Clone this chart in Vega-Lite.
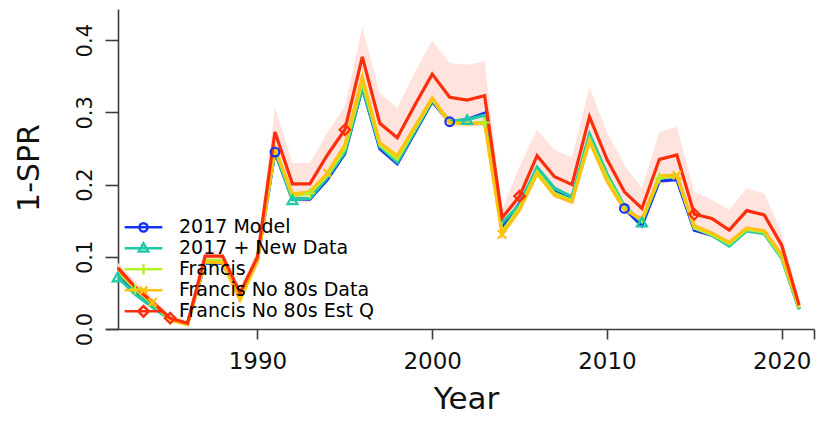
{
  "$schema": "https://vega.github.io/schema/vega-lite/v6.json",
  "width": 708,
  "height": 320,
  "autosize": {"type": "none"},
  "padding": {"left": 106, "top": 9, "right": 12, "bottom": 104},
  "background": "white",
  "config": {"view": {"stroke": null}, "font": "DejaVu Sans"},
  "datasets": {
    "band": [
      {"year": 1982, "lo": 0.076, "hi": 0.092},
      {"year": 1983, "lo": 0.050, "hi": 0.066},
      {"year": 1984, "lo": 0.030, "hi": 0.044},
      {"year": 1985, "lo": 0.010, "hi": 0.020},
      {"year": 1986, "lo": 0.005, "hi": 0.012},
      {"year": 1987, "lo": 0.092, "hi": 0.108},
      {"year": 1988, "lo": 0.092, "hi": 0.108},
      {"year": 1989, "lo": 0.043, "hi": 0.057},
      {"year": 1990, "lo": 0.092, "hi": 0.110},
      {"year": 1991, "lo": 0.240, "hi": 0.307},
      {"year": 1992, "lo": 0.175, "hi": 0.230},
      {"year": 1993, "lo": 0.175, "hi": 0.230},
      {"year": 1994, "lo": 0.210, "hi": 0.272},
      {"year": 1995, "lo": 0.245, "hi": 0.308},
      {"year": 1996, "lo": 0.336, "hi": 0.418},
      {"year": 1997, "lo": 0.245, "hi": 0.327},
      {"year": 1998, "lo": 0.226, "hi": 0.306},
      {"year": 1999, "lo": 0.268, "hi": 0.355},
      {"year": 2000, "lo": 0.310, "hi": 0.400},
      {"year": 2001, "lo": 0.280, "hi": 0.368},
      {"year": 2002, "lo": 0.280, "hi": 0.366},
      {"year": 2003, "lo": 0.282, "hi": 0.371},
      {"year": 2004, "lo": 0.132, "hi": 0.166},
      {"year": 2005, "lo": 0.160, "hi": 0.225},
      {"year": 2006, "lo": 0.212, "hi": 0.276},
      {"year": 2007, "lo": 0.182, "hi": 0.248},
      {"year": 2008, "lo": 0.172, "hi": 0.238},
      {"year": 2009, "lo": 0.258, "hi": 0.335},
      {"year": 2010, "lo": 0.205, "hi": 0.272},
      {"year": 2011, "lo": 0.162, "hi": 0.227},
      {"year": 2012, "lo": 0.140, "hi": 0.195},
      {"year": 2013, "lo": 0.200, "hi": 0.273},
      {"year": 2014, "lo": 0.205, "hi": 0.280},
      {"year": 2015, "lo": 0.135, "hi": 0.190},
      {"year": 2016, "lo": 0.128, "hi": 0.179},
      {"year": 2017, "lo": 0.113, "hi": 0.165},
      {"year": 2018, "lo": 0.133, "hi": 0.195},
      {"year": 2019, "lo": 0.130, "hi": 0.188},
      {"year": 2020, "lo": 0.097, "hi": 0.133},
      {"year": 2021, "lo": 0.026, "hi": 0.040}
    ],
    "lines": [
      {"s": "2017 Model", "year": 1982, "v": 0.078},
      {"s": "2017 Model", "year": 1983, "v": 0.052},
      {"s": "2017 Model", "year": 1984, "v": 0.032},
      {"s": "2017 Model", "year": 1985, "v": 0.013},
      {"s": "2017 Model", "year": 1986, "v": 0.008},
      {"s": "2017 Model", "year": 1987, "v": 0.091},
      {"s": "2017 Model", "year": 1988, "v": 0.091},
      {"s": "2017 Model", "year": 1989, "v": 0.046},
      {"s": "2017 Model", "year": 1990, "v": 0.096},
      {"s": "2017 Model", "year": 1991, "v": 0.245},
      {"s": "2017 Model", "year": 1992, "v": 0.180},
      {"s": "2017 Model", "year": 1993, "v": 0.180},
      {"s": "2017 Model", "year": 1994, "v": 0.207},
      {"s": "2017 Model", "year": 1995, "v": 0.243},
      {"s": "2017 Model", "year": 1996, "v": 0.334},
      {"s": "2017 Model", "year": 1997, "v": 0.250},
      {"s": "2017 Model", "year": 1998, "v": 0.229},
      {"s": "2017 Model", "year": 1999, "v": 0.272},
      {"s": "2017 Model", "year": 2000, "v": 0.315},
      {"s": "2017 Model", "year": 2001, "v": 0.287},
      {"s": "2017 Model", "year": 2002, "v": 0.290},
      {"s": "2017 Model", "year": 2003, "v": 0.299},
      {"s": "2017 Model", "year": 2004, "v": 0.140},
      {"s": "2017 Model", "year": 2005, "v": 0.174},
      {"s": "2017 Model", "year": 2006, "v": 0.220},
      {"s": "2017 Model", "year": 2007, "v": 0.190},
      {"s": "2017 Model", "year": 2008, "v": 0.182},
      {"s": "2017 Model", "year": 2009, "v": 0.266},
      {"s": "2017 Model", "year": 2010, "v": 0.212},
      {"s": "2017 Model", "year": 2011, "v": 0.167},
      {"s": "2017 Model", "year": 2012, "v": 0.143},
      {"s": "2017 Model", "year": 2013, "v": 0.205},
      {"s": "2017 Model", "year": 2014, "v": 0.207},
      {"s": "2017 Model", "year": 2015, "v": 0.137},
      {"s": "2017 Model", "year": 2016, "v": 0.130},
      {"s": "2017 Model", "year": 2017, "v": 0.117},
      {"s": "2017 Model", "year": 2018, "v": 0.137},
      {"s": "2017 Model", "year": 2019, "v": 0.133},
      {"s": "2017 Model", "year": 2020, "v": 0.100},
      {"s": "2017 Model", "year": 2021, "v": 0.028},
      {"s": "2017 + New Data", "year": 1982, "v": 0.072},
      {"s": "2017 + New Data", "year": 1983, "v": 0.048},
      {"s": "2017 + New Data", "year": 1984, "v": 0.030},
      {"s": "2017 + New Data", "year": 1985, "v": 0.013},
      {"s": "2017 + New Data", "year": 1986, "v": 0.008},
      {"s": "2017 + New Data", "year": 1987, "v": 0.092},
      {"s": "2017 + New Data", "year": 1988, "v": 0.092},
      {"s": "2017 + New Data", "year": 1989, "v": 0.045},
      {"s": "2017 + New Data", "year": 1990, "v": 0.096},
      {"s": "2017 + New Data", "year": 1991, "v": 0.247},
      {"s": "2017 + New Data", "year": 1992, "v": 0.179},
      {"s": "2017 + New Data", "year": 1993, "v": 0.181},
      {"s": "2017 + New Data", "year": 1994, "v": 0.210},
      {"s": "2017 + New Data", "year": 1995, "v": 0.245},
      {"s": "2017 + New Data", "year": 1996, "v": 0.335},
      {"s": "2017 + New Data", "year": 1997, "v": 0.253},
      {"s": "2017 + New Data", "year": 1998, "v": 0.231},
      {"s": "2017 + New Data", "year": 1999, "v": 0.274},
      {"s": "2017 + New Data", "year": 2000, "v": 0.317},
      {"s": "2017 + New Data", "year": 2001, "v": 0.288},
      {"s": "2017 + New Data", "year": 2002, "v": 0.290},
      {"s": "2017 + New Data", "year": 2003, "v": 0.296},
      {"s": "2017 + New Data", "year": 2004, "v": 0.147},
      {"s": "2017 + New Data", "year": 2005, "v": 0.172},
      {"s": "2017 + New Data", "year": 2006, "v": 0.224},
      {"s": "2017 + New Data", "year": 2007, "v": 0.195},
      {"s": "2017 + New Data", "year": 2008, "v": 0.183},
      {"s": "2017 + New Data", "year": 2009, "v": 0.270},
      {"s": "2017 + New Data", "year": 2010, "v": 0.215},
      {"s": "2017 + New Data", "year": 2011, "v": 0.170},
      {"s": "2017 + New Data", "year": 2012, "v": 0.148},
      {"s": "2017 + New Data", "year": 2013, "v": 0.210},
      {"s": "2017 + New Data", "year": 2014, "v": 0.213},
      {"s": "2017 + New Data", "year": 2015, "v": 0.140},
      {"s": "2017 + New Data", "year": 2016, "v": 0.130},
      {"s": "2017 + New Data", "year": 2017, "v": 0.115},
      {"s": "2017 + New Data", "year": 2018, "v": 0.136},
      {"s": "2017 + New Data", "year": 2019, "v": 0.132},
      {"s": "2017 + New Data", "year": 2020, "v": 0.098},
      {"s": "2017 + New Data", "year": 2021, "v": 0.027},
      {"s": "Francis", "year": 1982, "v": 0.080},
      {"s": "Francis", "year": 1983, "v": 0.055},
      {"s": "Francis", "year": 1984, "v": 0.035},
      {"s": "Francis", "year": 1985, "v": 0.014},
      {"s": "Francis", "year": 1986, "v": 0.008},
      {"s": "Francis", "year": 1987, "v": 0.095},
      {"s": "Francis", "year": 1988, "v": 0.095},
      {"s": "Francis", "year": 1989, "v": 0.046},
      {"s": "Francis", "year": 1990, "v": 0.098},
      {"s": "Francis", "year": 1991, "v": 0.250},
      {"s": "Francis", "year": 1992, "v": 0.184},
      {"s": "Francis", "year": 1993, "v": 0.188},
      {"s": "Francis", "year": 1994, "v": 0.213},
      {"s": "Francis", "year": 1995, "v": 0.250},
      {"s": "Francis", "year": 1996, "v": 0.342},
      {"s": "Francis", "year": 1997, "v": 0.255},
      {"s": "Francis", "year": 1998, "v": 0.235},
      {"s": "Francis", "year": 1999, "v": 0.277},
      {"s": "Francis", "year": 2000, "v": 0.318},
      {"s": "Francis", "year": 2001, "v": 0.285},
      {"s": "Francis", "year": 2002, "v": 0.285},
      {"s": "Francis", "year": 2003, "v": 0.286},
      {"s": "Francis", "year": 2004, "v": 0.135},
      {"s": "Francis", "year": 2005, "v": 0.168},
      {"s": "Francis", "year": 2006, "v": 0.218},
      {"s": "Francis", "year": 2007, "v": 0.188},
      {"s": "Francis", "year": 2008, "v": 0.178},
      {"s": "Francis", "year": 2009, "v": 0.263},
      {"s": "Francis", "year": 2010, "v": 0.210},
      {"s": "Francis", "year": 2011, "v": 0.168},
      {"s": "Francis", "year": 2012, "v": 0.150},
      {"s": "Francis", "year": 2013, "v": 0.209},
      {"s": "Francis", "year": 2014, "v": 0.212},
      {"s": "Francis", "year": 2015, "v": 0.140},
      {"s": "Francis", "year": 2016, "v": 0.131},
      {"s": "Francis", "year": 2017, "v": 0.118},
      {"s": "Francis", "year": 2018, "v": 0.138},
      {"s": "Francis", "year": 2019, "v": 0.134},
      {"s": "Francis", "year": 2020, "v": 0.100},
      {"s": "Francis", "year": 2021, "v": 0.029},
      {"s": "Francis No 80s Data", "year": 1982, "v": 0.082},
      {"s": "Francis No 80s Data", "year": 1983, "v": 0.058},
      {"s": "Francis No 80s Data", "year": 1984, "v": 0.037},
      {"s": "Francis No 80s Data", "year": 1985, "v": 0.012},
      {"s": "Francis No 80s Data", "year": 1986, "v": 0.006},
      {"s": "Francis No 80s Data", "year": 1987, "v": 0.093},
      {"s": "Francis No 80s Data", "year": 1988, "v": 0.092},
      {"s": "Francis No 80s Data", "year": 1989, "v": 0.040},
      {"s": "Francis No 80s Data", "year": 1990, "v": 0.094},
      {"s": "Francis No 80s Data", "year": 1991, "v": 0.250},
      {"s": "Francis No 80s Data", "year": 1992, "v": 0.187},
      {"s": "Francis No 80s Data", "year": 1993, "v": 0.190},
      {"s": "Francis No 80s Data", "year": 1994, "v": 0.216},
      {"s": "Francis No 80s Data", "year": 1995, "v": 0.255},
      {"s": "Francis No 80s Data", "year": 1996, "v": 0.349},
      {"s": "Francis No 80s Data", "year": 1997, "v": 0.258},
      {"s": "Francis No 80s Data", "year": 1998, "v": 0.240},
      {"s": "Francis No 80s Data", "year": 1999, "v": 0.280},
      {"s": "Francis No 80s Data", "year": 2000, "v": 0.320},
      {"s": "Francis No 80s Data", "year": 2001, "v": 0.286},
      {"s": "Francis No 80s Data", "year": 2002, "v": 0.284},
      {"s": "Francis No 80s Data", "year": 2003, "v": 0.285},
      {"s": "Francis No 80s Data", "year": 2004, "v": 0.131},
      {"s": "Francis No 80s Data", "year": 2005, "v": 0.165},
      {"s": "Francis No 80s Data", "year": 2006, "v": 0.215},
      {"s": "Francis No 80s Data", "year": 2007, "v": 0.185},
      {"s": "Francis No 80s Data", "year": 2008, "v": 0.176},
      {"s": "Francis No 80s Data", "year": 2009, "v": 0.260},
      {"s": "Francis No 80s Data", "year": 2010, "v": 0.205},
      {"s": "Francis No 80s Data", "year": 2011, "v": 0.165},
      {"s": "Francis No 80s Data", "year": 2012, "v": 0.152},
      {"s": "Francis No 80s Data", "year": 2013, "v": 0.212},
      {"s": "Francis No 80s Data", "year": 2014, "v": 0.213},
      {"s": "Francis No 80s Data", "year": 2015, "v": 0.143},
      {"s": "Francis No 80s Data", "year": 2016, "v": 0.133},
      {"s": "Francis No 80s Data", "year": 2017, "v": 0.120},
      {"s": "Francis No 80s Data", "year": 2018, "v": 0.140},
      {"s": "Francis No 80s Data", "year": 2019, "v": 0.136},
      {"s": "Francis No 80s Data", "year": 2020, "v": 0.103},
      {"s": "Francis No 80s Data", "year": 2021, "v": 0.030},
      {"s": "Francis No 80s Est Q", "year": 1982, "v": 0.085},
      {"s": "Francis No 80s Est Q", "year": 1983, "v": 0.058},
      {"s": "Francis No 80s Est Q", "year": 1984, "v": 0.037},
      {"s": "Francis No 80s Est Q", "year": 1985, "v": 0.015},
      {"s": "Francis No 80s Est Q", "year": 1986, "v": 0.008},
      {"s": "Francis No 80s Est Q", "year": 1987, "v": 0.101},
      {"s": "Francis No 80s Est Q", "year": 1988, "v": 0.101},
      {"s": "Francis No 80s Est Q", "year": 1989, "v": 0.050},
      {"s": "Francis No 80s Est Q", "year": 1990, "v": 0.100},
      {"s": "Francis No 80s Est Q", "year": 1991, "v": 0.273},
      {"s": "Francis No 80s Est Q", "year": 1992, "v": 0.201},
      {"s": "Francis No 80s Est Q", "year": 1993, "v": 0.201},
      {"s": "Francis No 80s Est Q", "year": 1994, "v": 0.241},
      {"s": "Francis No 80s Est Q", "year": 1995, "v": 0.276},
      {"s": "Francis No 80s Est Q", "year": 1996, "v": 0.377},
      {"s": "Francis No 80s Est Q", "year": 1997, "v": 0.285},
      {"s": "Francis No 80s Est Q", "year": 1998, "v": 0.265},
      {"s": "Francis No 80s Est Q", "year": 1999, "v": 0.310},
      {"s": "Francis No 80s Est Q", "year": 2000, "v": 0.353},
      {"s": "Francis No 80s Est Q", "year": 2001, "v": 0.321},
      {"s": "Francis No 80s Est Q", "year": 2002, "v": 0.317},
      {"s": "Francis No 80s Est Q", "year": 2003, "v": 0.323},
      {"s": "Francis No 80s Est Q", "year": 2004, "v": 0.154},
      {"s": "Francis No 80s Est Q", "year": 2005, "v": 0.184},
      {"s": "Francis No 80s Est Q", "year": 2006, "v": 0.240},
      {"s": "Francis No 80s Est Q", "year": 2007, "v": 0.211},
      {"s": "Francis No 80s Est Q", "year": 2008, "v": 0.200},
      {"s": "Francis No 80s Est Q", "year": 2009, "v": 0.294},
      {"s": "Francis No 80s Est Q", "year": 2010, "v": 0.235},
      {"s": "Francis No 80s Est Q", "year": 2011, "v": 0.190},
      {"s": "Francis No 80s Est Q", "year": 2012, "v": 0.167},
      {"s": "Francis No 80s Est Q", "year": 2013, "v": 0.235},
      {"s": "Francis No 80s Est Q", "year": 2014, "v": 0.241},
      {"s": "Francis No 80s Est Q", "year": 2015, "v": 0.159},
      {"s": "Francis No 80s Est Q", "year": 2016, "v": 0.153},
      {"s": "Francis No 80s Est Q", "year": 2017, "v": 0.137},
      {"s": "Francis No 80s Est Q", "year": 2018, "v": 0.164},
      {"s": "Francis No 80s Est Q", "year": 2019, "v": 0.158},
      {"s": "Francis No 80s Est Q", "year": 2020, "v": 0.116},
      {"s": "Francis No 80s Est Q", "year": 2021, "v": 0.033}
    ]
  },
  "layer": [
    {
      "data": {"name": "band"},
      "mark": {"type": "area", "color": "#FFE3DC", "opacity": 1},
      "encoding": {
        "x": {
          "field": "year", "type": "quantitative",
          "scale": {"domain": [1981.33, 2021.85], "nice": false, "zero": false},
          "axis": {
            "title": "Year",
            "values": [1990, 2000, 2010, 2020, 2021.85],
            "labelExpr": "datum.value > 2021 ? '' : format(datum.value, 'd')",
            "grid": false,
            "domainColor": "#3c3c3c", "domainWidth": 1.6,
            "tickColor": "#3c3c3c", "tickWidth": 1.6, "tickSize": 10,
            "labelFont": "DejaVu Sans", "labelFontSize": 23, "labelColor": "#111111",
            "labelPadding": 11, "labelBaseline": "top", "labelFlush": false, "labelOverlap": false,
            "titleFont": "DejaVu Sans", "titleFontSize": 31, "titleFontWeight": "normal", "titleColor": "#111111",
            "titleBaseline": "alphabetic", "titleX": 360, "titleY": 79
          }
        },
        "y": {
          "field": "lo", "type": "quantitative",
          "scale": {"domain": [0, 0.4432], "nice": false},
          "axis": {
            "title": "1-SPR",
            "values": [0, 0.1, 0.2, 0.3, 0.4],
            "format": ".1f",
            "offset": -12,
            "grid": false,
            "domainColor": "#3c3c3c", "domainWidth": 1.6,
            "tickColor": "#3c3c3c", "tickWidth": 1.6, "tickSize": 13,
            "labelFont": "DejaVu Sans", "labelFontSize": 21, "labelColor": "#111111",
            "labelAngle": -90, "labelAlign": "center", "labelBaseline": "alphabetic", "labelPadding": 14,
            "titleFont": "DejaVu Sans", "titleFontSize": 30, "titleFontWeight": "normal", "titleColor": "#111111",
            "titleAngle": -90, "titleAlign": "center", "titleBaseline": "alphabetic", "titleX": -80, "titleY": 158.5
          }
        },
        "y2": {"field": "hi"}
      }
    },
    {
      "data": {"name": "lines"},
      "mark": {"type": "line", "strokeWidth": 3.2},
      "encoding": {
        "x": {"field": "year", "type": "quantitative"},
        "y": {"field": "v", "type": "quantitative"},
        "color": {
          "field": "s", "type": "nominal",
          "scale": {
            "domain": ["2017 Model", "2017 + New Data", "Francis", "Francis No 80s Data", "Francis No 80s Est Q"],
            "range": ["#1533F0", "#1FC8A8", "#B2F02C", "#FFC20E", "#FF2E0A"]
          }
        }
      }
    },
    {
      "data": {"name": "lines"},
      "transform": [{"filter": "datum.s == '2017 Model' && datum.year % 10 == 1 && datum.year < 2021"}],
      "mark": {"type": "point", "shape": "circle", "filled": false, "size": 75, "strokeWidth": 2.2, "opacity": 1},
      "encoding": {
        "x": {"field": "year", "type": "quantitative"},
        "y": {"field": "v", "type": "quantitative"},
        "color": {"field": "s", "type": "nominal"}
      }
    },
    {
      "data": {"name": "lines"},
      "transform": [{"filter": "datum.s == '2017 + New Data' && datum.year % 10 == 2"}],
      "mark": {"type": "point", "shape": "triangle-up", "filled": false, "size": 100, "strokeWidth": 2.2, "opacity": 1},
      "encoding": {
        "x": {"field": "year", "type": "quantitative"},
        "y": {"field": "v", "type": "quantitative"},
        "color": {"field": "s", "type": "nominal"}
      }
    },
    {
      "data": {"name": "lines"},
      "transform": [{"filter": "datum.s == 'Francis' && datum.year % 10 == 3"}],
      "mark": {"type": "point", "shape": "M-1,0H1M0,-1V1", "filled": false, "size": 110, "strokeWidth": 2.2, "opacity": 1},
      "encoding": {
        "x": {"field": "year", "type": "quantitative"},
        "y": {"field": "v", "type": "quantitative"},
        "color": {"field": "s", "type": "nominal"}
      }
    },
    {
      "data": {"name": "lines"},
      "transform": [{"filter": "datum.s == 'Francis No 80s Data' && datum.year % 10 == 4"}],
      "mark": {"type": "point", "shape": "M-1,-1L1,1M-1,1L1,-1", "filled": false, "size": 70, "strokeWidth": 2.2, "opacity": 1},
      "encoding": {
        "x": {"field": "year", "type": "quantitative"},
        "y": {"field": "v", "type": "quantitative"},
        "color": {"field": "s", "type": "nominal"}
      }
    },
    {
      "data": {"name": "lines"},
      "transform": [{"filter": "datum.s == 'Francis No 80s Est Q' && datum.year % 10 == 5"}],
      "mark": {"type": "point", "shape": "diamond", "filled": false, "size": 110, "strokeWidth": 2.2, "opacity": 1},
      "encoding": {
        "x": {"field": "year", "type": "quantitative"},
        "y": {"field": "v", "type": "quantitative"},
        "color": {"field": "s", "type": "nominal"}
      }
    },
    {
      "data": {"name": "lines"},
      "transform": [{"filter": "datum.year < 0"}],
      "mark": {"type": "point", "filled": false, "size": 1421, "strokeWidth": 2.5, "opacity": 1},
      "encoding": {
        "color": {
          "field": "s", "type": "nominal",
          "legend": {
            "orient": "none", "legendX": 17, "legendY": 208, "title": null, "padding": 0,
            "clipHeight": 20.7, "rowPadding": 0, "symbolSize": 1421, "symbolStrokeWidth": 2.5,
            "symbolType": "M-1,0H1M0.22,0A0.22,0.22,0,1,1,-0.22,0A0.22,0.22,0,1,1,0.22,0Z",
            "labelFont": "DejaVu Sans", "labelFontSize": 19, "labelColor": "#000000",
            "labelOffset": 15, "labelLimit": 400, "symbolFillColor": "transparent", "symbolOpacity": 1
          }
        },
        "shape": {
          "field": "s", "type": "nominal",
          "scale": {
            "domain": ["2017 Model", "2017 + New Data", "Francis", "Francis No 80s Data", "Francis No 80s Est Q"],
            "range": [
              "M-1,0H1M0.22,0A0.22,0.22,0,1,1,-0.22,0A0.22,0.22,0,1,1,0.22,0Z",
              "M-1,0H1M0,-0.27L0.25,0.17L-0.25,0.17Z",
              "M-1,0H1M0,-0.27V0.27",
              "M-1,0H1M-0.2,-0.2L0.2,0.2M-0.2,0.2L0.2,-0.2",
              "M-1,0H1M0,-0.28L0.28,0L0,0.28L-0.28,0Z"
            ]
          },
          "legend": {
            "orient": "none", "legendX": 17, "legendY": 208, "title": null, "padding": 0,
            "clipHeight": 20.7, "rowPadding": 0, "symbolSize": 1421, "symbolStrokeWidth": 2.5,
            "labelFont": "DejaVu Sans", "labelFontSize": 19, "labelColor": "#000000",
            "labelOffset": 15, "labelLimit": 400, "symbolFillColor": "transparent", "symbolOpacity": 1
          }
        }
      }
    }
  ]
}
